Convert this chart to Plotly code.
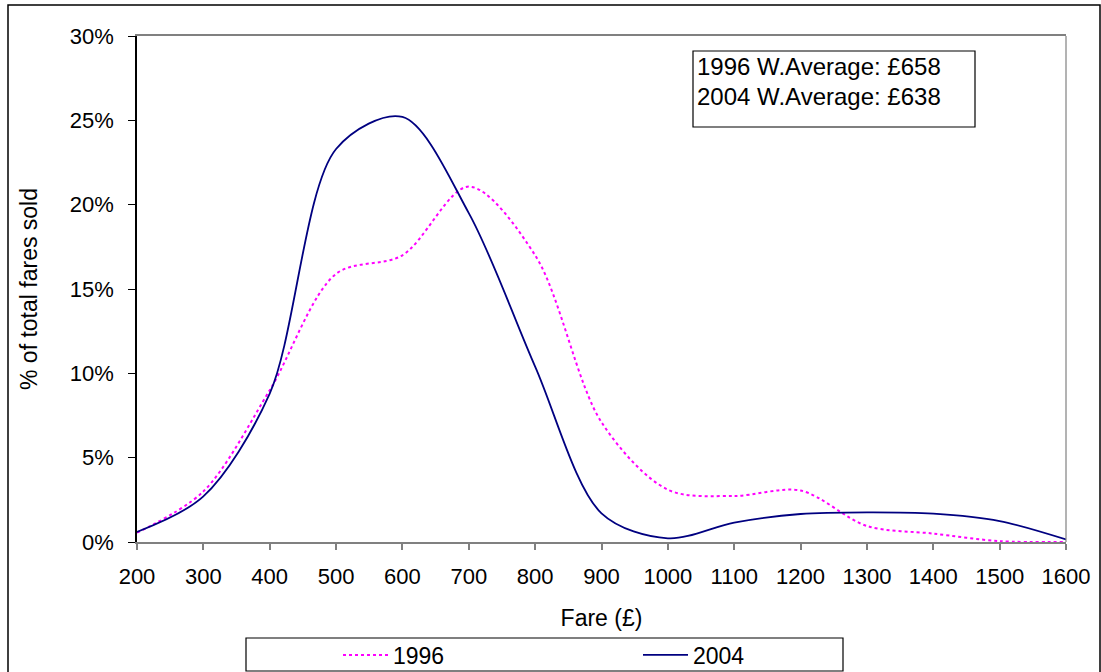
import plotly.graph_objects as go

fares = [200, 300, 400, 500, 600, 700, 800, 900, 1000, 1100, 1200, 1300, 1400, 1500, 1600]
share_1996 = [0.55, 3.0, 9.0, 15.9, 17.0, 21.07, 17.0, 7.1, 3.1, 2.73, 3.05, 0.95, 0.5, 0.05, 0.0]
share_2004 = [0.6, 2.7, 8.8, 23.3, 25.2, 19.5, 10.4, 1.7, 0.22, 1.15, 1.66, 1.76, 1.68, 1.24, 0.15]
notes = ["1996 W.Average: £658", "2004 W.Average: £638"]
x_ticks = list(range(200, 1601, 100))
y_ticks = [0, 5, 10, 15, 20, 25, 30]

W, H = 1101, 672
L, R, T, B = 137, 1066, 36, 542
def px(x):
    return (x - L) / (R - L)
def py(y):
    return (B - y) / (B - T)

FONT = "Arial, Liberation Sans, sans-serif"

fig = go.Figure()
fig.add_trace(go.Scatter(
    x=fares, y=share_1996, name="1996", mode="lines",
    line=dict(color="#FF00FF", width=2, dash="dot", shape="spline", smoothing=0.9),
))
fig.add_trace(go.Scatter(
    x=fares, y=share_2004, name="2004", mode="lines",
    line=dict(color="#000080", width=1.8, shape="spline", smoothing=0.9),
))

shapes = [
    # outer chart border
    dict(type="rect", xref="paper", yref="paper", x0=px(8), x1=px(1100), y0=py(700), y1=py(5),
         line=dict(color="#000000", width=1.5), layer="below"),
    # right edge of plot area
    dict(type="line", xref="paper", yref="paper", x0=1, x1=1, y0=0, y1=1,
         line=dict(color="#808080", width=1.2)),
    # text box
    dict(type="rect", xref="paper", yref="paper", x0=px(693), x1=px(975), y0=py(127), y1=py(51),
         line=dict(color="#000000", width=1.2), fillcolor="white"),
    # legend box
    dict(type="rect", xref="paper", yref="paper", x0=px(246), x1=px(843), y0=py(671), y1=py(638),
         line=dict(color="#000000", width=1.2)),
]

annotations = [
    dict(text=notes[0], xref="paper", yref="paper", x=px(695), y=py(66), xanchor="left", yanchor="middle",
         showarrow=False, font=dict(family=FONT, size=24, color="#000")),
    dict(text=notes[1], xref="paper", yref="paper", x=px(695), y=py(96), xanchor="left", yanchor="middle",
         showarrow=False, font=dict(family=FONT, size=24, color="#000")),
]

fig.update_layout(
    width=W, height=H,
    margin=dict(l=L, r=W - R, t=T, b=H - B, pad=0, autoexpand=False),
    paper_bgcolor="white", plot_bgcolor="white",
    font=dict(family=FONT, size=22, color="#000"),
    shapes=shapes, annotations=annotations,
    showlegend=True,
    legend=dict(orientation="h", x=px(338), y=py(655), xanchor="left", yanchor="middle",
                bgcolor="rgba(0,0,0,0)", borderwidth=0, entrywidth=240, entrywidthmode="pixels",
                font=dict(family=FONT, size=23, color="#000"), itemwidth=45),
    xaxis=dict(range=[200, 1600], tickvals=x_ticks, ticktext=[str(v) for v in x_ticks],
               showgrid=False, zeroline=False, showline=True, linecolor="#808080", linewidth=1.5,
               mirror=True, ticks="outside", ticklen=6, tickcolor="#808080", tickwidth=1.5,
               title=dict(text="Fare (£)", font=dict(family=FONT, size=23), standoff=22),
               ticklabelstandoff=8, automargin=False),
    yaxis=dict(range=[0, 30], tickvals=y_ticks, ticktext=[f"{v}%" for v in y_ticks],
               showgrid=False, zeroline=False, showline=True, linecolor="#000000", linewidth=1.5,
               ticks="outside", ticklen=7, tickcolor="#000000", tickwidth=1.2,
               title=dict(text="% of total fares sold", font=dict(family=FONT, size=23), standoff=26),
               ticklabelstandoff=10, automargin=False),
)

fig.write_html("out.html")
